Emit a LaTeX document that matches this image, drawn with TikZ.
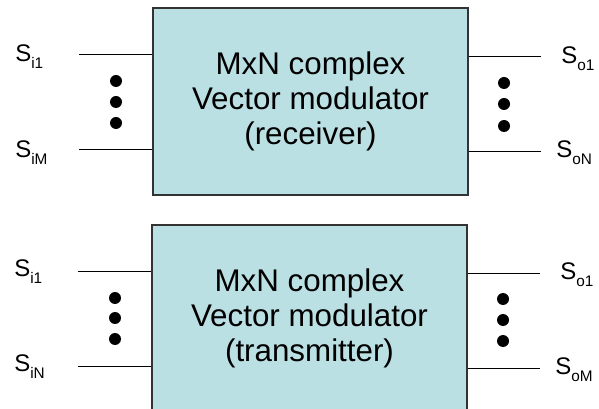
\documentclass[tikz,border=0pt]{standalone}
\usepackage{fontspec}
\setmainfont{Liberation Sans}
\usetikzlibrary{calc, positioning}
\definecolor{boxblue}{HTML}{BBE0E3}
\newcommand{\sig}[1]{{\fontsize{18}{20}\selectfont S}\raisebox{-5pt}{\fontsize{11.5}{13}\selectfont #1}}

\begin{document}
\begin{tikzpicture}[x=0.75pt,y=-0.75pt]
\tikzstyle{modbox}=[draw=black!80,line width=1.1pt,fill=boxblue,minimum width=236.25pt,minimum height=140.25pt,align=center,inner sep=0pt,font=\fontsize{23.5}{26.5}\selectfont]
\tikzstyle{dot}=[circle,fill=black,inner sep=0pt,minimum size=9pt]
\tikzstyle{wire}=[-,line width=0.75pt]
\tikzstyle{sig}=[anchor=base west,inner sep=0pt]

\useasboundingbox (0,0) rectangle (599,409);
\clip (0,0) rectangle (599,409);

% receiver
\node[modbox] (rx) at (310.5,101.5) {MxN complex\\Vector modulator\\(receiver)};

\coordinate (rin1) at (79,55);
\coordinate (rinM) at (79,150);
\coordinate (rout1) at (541,57);
\coordinate (routN) at (541,152);
\draw[wire] (rin1) -- (rin1 -| rx.west);
\draw[wire] (rinM) -- (rinM -| rx.west);
\draw[wire] (rx.east |- rout1) -- (rout1);
\draw[wire] (rx.east |- routN) -- (routN);

\node[sig] (lrin1) at (15,61.5) {\sig{i1}};
\node[sig] (lrinM) at (15,158) {\sig{iM}};
\node[sig] (lrout1) at (561,64) {\sig{o1}};
\node[sig] (lroutN) at (556,158) {\sig{oN}};

\node[dot] (rd1) at (116,81) {};
\node[dot] (rd2) at (116,102) {};
\node[dot] (rd3) at (116,123) {};
\node[dot] (rd4) at (504,83) {};
\node[dot] (rd5) at (504,104) {};
\node[dot] (rd6) at (504,126) {};

% transmitter
\node[modbox] (tx) at (309.5,318.5) {MxN complex\\Vector modulator\\(transmitter)};

\coordinate (tin1) at (78,271.5);
\coordinate (tinN) at (78,366);
\coordinate (tout1) at (540,273.5);
\coordinate (toutM) at (540,368);
\draw[wire] (tin1) -- (tin1 -| tx.west);
\draw[wire] (tinN) -- (tinN -| tx.west);
\draw[wire] (tx.east |- tout1) -- (tout1);
\draw[wire] (tx.east |- toutM) -- (toutM);

\node[sig] (ltin1) at (14,276.5) {\sig{i1}};
\node[sig] (ltinN) at (14,371.5) {\sig{iN}};
\node[sig] (ltout1) at (560,279.5) {\sig{o1}};
\node[sig] (ltoutM) at (555,374.5) {\sig{oM}};

\node[dot] (td1) at (115,298) {};
\node[dot] (td2) at (115,318) {};
\node[dot] (td3) at (115,339) {};
\node[dot] (td4) at (503,299) {};
\node[dot] (td5) at (503,320) {};
\node[dot] (td6) at (503,341) {};
\end{tikzpicture}
\end{document}
